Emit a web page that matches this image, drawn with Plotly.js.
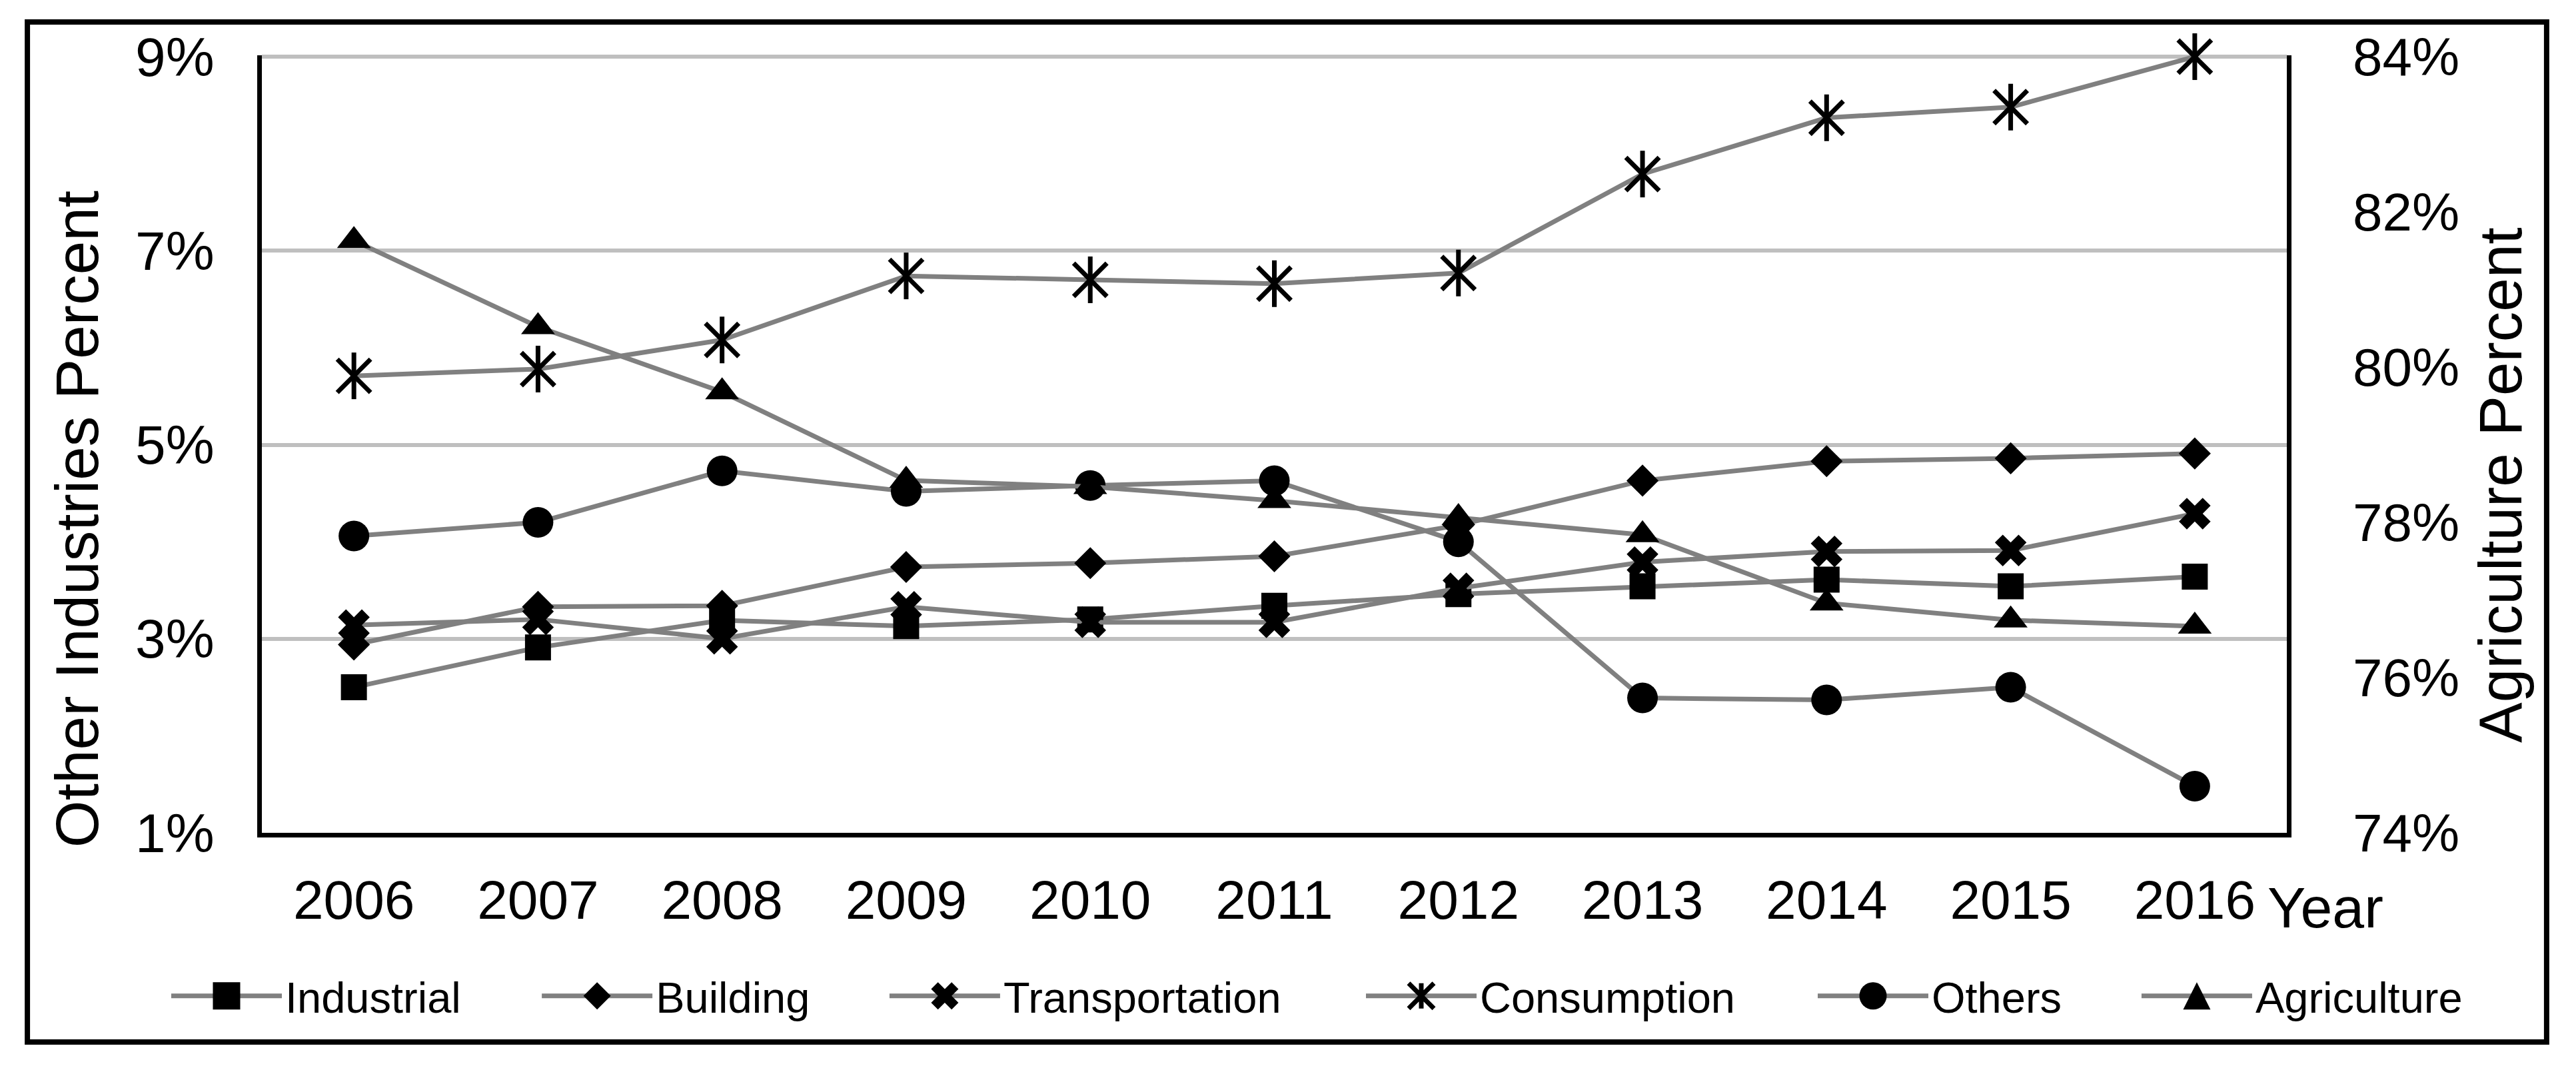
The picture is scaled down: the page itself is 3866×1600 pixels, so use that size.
<!DOCTYPE html>
<html>
<head>
<meta charset="utf-8">
<script src="https://cdn.plot.ly/plotly-3.0.1.min.js"></script>
<style>
html,body{margin:0;padding:0;background:#ffffff;}
#chart{width:3866px;height:1600px;}
</style>
</head>
<body>
<div id="chart"></div>
<script>
// ---------------- data ----------------
const years = [2006, 2007, 2008, 2009, 2010, 2011, 2012, 2013, 2014, 2015, 2016];
const yearLabels = ["2006", "2007", "2008", "2009", "2010", "2011", "2012", "2013", "2014", "2015", "2016"];

// left axis: Other Industries Percent (%)
const industrial     = [2.50, 2.91, 3.19, 3.13, 3.20, 3.34, 3.46, 3.54, 3.61, 3.54, 3.64];
const building       = [2.94, 3.33, 3.34, 3.74, 3.78, 3.85, 4.17, 4.63, 4.83, 4.86, 4.91];
const transportation = [3.14, 3.20, 3.00, 3.33, 3.17, 3.17, 3.52, 3.79, 3.90, 3.91, 4.29];
const consumption    = [5.71, 5.78, 6.08, 6.74, 6.70, 6.66, 6.77, 7.79, 8.37, 8.48, 9.00];
const others         = [4.06, 4.20, 4.73, 4.52, 4.58, 4.63, 4.00, 2.39, 2.37, 2.50, 1.48];
// right axis: Agriculture Percent (%)
const agriculture    = [81.63, 80.52, 79.68, 78.54, 78.46, 78.28, 78.06, 77.84, 76.96, 76.74, 76.66];

const leftTicks       = [1, 3, 5, 7, 9];
const leftTickLabels  = ["1%", "3%", "5%", "7%", "9%"];
const rightTicks      = [74, 76, 78, 80, 82, 84];
const rightTickLabels = ["74%", "76%", "78%", "80%", "82%", "84%"];

// ---------------- style ----------------
const FONT = 'Liberation Sans, Arial, Helvetica, sans-serif';
const LINE_COLOR = '#808080';
const LINE_W = 7;

function series(name, y, symbol, size, legendId, axis, extraMarker) {
  const marker = Object.assign({symbol: symbol, size: size, color: '#000000', line: {width: 0}}, extraMarker || {});
  return {
    type: 'scatter', mode: 'lines+markers', name: name,
    x: years, y: y, yaxis: axis || 'y',
    line: {color: LINE_COLOR, width: LINE_W},
    marker: marker, cliponaxis: false,
    legend: legendId
  };
}

const data = [
  series('Industrial', industrial, 'square', 39, 'legend', 'y'),
  series('Building', building, 'diamond', 37, 'legend2', 'y'),
  series('Transportation', transportation, 'x', 42, 'legend3', 'y'),
  series('Consumption', consumption, 'x-thin-open', 50, 'legend4', 'y',
         {line: {color: '#000000', width: 7}}),
  {
    type: 'scatter', mode: 'markers', name: 'Consumption', showlegend: false,
    x: years, y: consumption, yaxis: 'y', cliponaxis: false,
    marker: {symbol: 'line-ns-open', size: 50, color: '#000000', line: {color: '#000000', width: 7}}
  },
  series('Others', others, 'circle', 46, 'legend5', 'y'),
  series('Agriculture', agriculture, 'triangle-up', 44, 'legend6', 'y2')
];

function legendAt(x) {
  return {
    x: x, y: -0.2099, xanchor: 'left', yanchor: 'middle',
    orientation: 'h', bgcolor: 'rgba(0,0,0,0)', borderwidth: 0,
    font: {family: FONT, size: 65, color: '#000000'},
    itemwidth: 166, itemclick: false, itemdoubleclick: false
  };
}

const layout = {
  width: 3866, height: 1600,
  margin: {l: 393, r: 434, t: 83, b: 350, pad: 0, autoexpand: false},
  paper_bgcolor: '#ffffff', plot_bgcolor: '#ffffff',
  font: {family: FONT, color: '#000000'},
  showlegend: true,
  legend:  legendAt(-0.0464),
  legend2: legendAt(0.1366),
  legend3: legendAt(0.3083),
  legend4: legendAt(0.5436),
  legend5: legendAt(0.7667),
  legend6: legendAt(0.9266),
  xaxis: {
    range: [2005.5, 2016.5], tickmode: 'array', tickvals: years, ticktext: yearLabels,
    showgrid: false, zeroline: false, showline: true,
    linecolor: '#000000', linewidth: 7, ticks: '',
    tickfont: {family: FONT, size: 82, color: '#000000'},
    ticklabelstandoff: 24, fixedrange: true
  },
  yaxis: {
    range: [1, 9.014], tickmode: 'array', tickvals: leftTicks, ticktext: leftTickLabels,
    showgrid: true, gridcolor: '#bfbfbf', gridwidth: 6,
    zeroline: false, showline: true, linecolor: '#000000', linewidth: 7,
    ticks: '', tickfont: {family: FONT, size: 82, color: '#000000'},
    ticklabelstandoff: 48, fixedrange: true
  },
  yaxis2: {
    overlaying: 'y', side: 'right', anchor: 'x',
    range: [74, 84.0175], tickmode: 'array', tickvals: rightTicks, ticktext: rightTickLabels,
    showgrid: false, zeroline: false, showline: true,
    linecolor: '#000000', linewidth: 7, ticks: '',
    tickfont: {family: FONT, size: 80, color: '#000000'},
    ticklabelstandoff: 76, fixedrange: true
  },
  annotations: [
    {text: 'Other Industries Percent', xref: 'paper', yref: 'paper',
     x: -0.0911, y: 0.4036, xanchor: 'center', yanchor: 'middle',
     textangle: -90, showarrow: false, font: {family: FONT, size: 91, color: '#000000'}},
    {text: 'Agriculture Percent', xref: 'paper', yref: 'paper',
     x: 1.1053, y: 0.4473, xanchor: 'center', yanchor: 'middle',
     textangle: -90, showarrow: false, font: {family: FONT, size: 91, color: '#000000'}},
    {text: 'Year', xref: 'paper', yref: 'paper',
     x: 1.0191, y: -0.096, xanchor: 'center', yanchor: 'middle',
     showarrow: false, font: {family: FONT, size: 86, color: '#000000'}}
  ],
  shapes: [
    {type: 'rect', xref: 'paper', yref: 'paper',
     x0: -0.1158, x1: 1.1283, y0: -0.2691, y1: 1.0428,
     line: {color: '#000000', width: 8}, fillcolor: 'rgba(0,0,0,0)', layer: 'below'}
  ]
};

// Plotly caps legend symbols at 16px; scale them up to the ~41px used in the reference.
// Idempotent, so it can be re-run whenever Plotly redraws a legend.
const XTHIN = /^M(-?[\d.]+),(-?[\d.]+)L-?[\d.]+,-?[\d.]+M-?[\d.]+,-?[\d.]+L-?[\d.]+,-?[\d.]+$/;
function enlargeLegendSymbols(gd) {
  gd.querySelectorAll('.legendpoints path.scatterpts').forEach(function (p) {
    const d = p.getAttribute('d') || '';
    let isStar = false;
    const mm = d.match(XTHIN);
    if (mm) {
      const rx = parseFloat(mm[1]);
      if (isFinite(rx)) { p.setAttribute('d', d + 'M0,' + rx + 'V-' + rx); isStar = true; }
    } else if (d.indexOf('V-') !== -1 && /^M-?[\d.]+,-?[\d.]+L/.test(d)) {
      isStar = true;
    }
    const cur = p.getAttribute('transform') || '';
    const base = cur.replace(/\s*scale\([^)]*\)/g, '').replace(/\s*translate\([^)]*\)\s*$/, function (s) {
      return (cur.indexOf('scale') !== -1) ? '' : s;
    });
    let bb;
    try { bb = p.getBBox(); } catch (e) { return; }
    if (!bb.width || !bb.height) return;
    const target = isStar ? 38 : 41;
    const kx = Math.round((target / bb.width) * 1000) / 1000;
    const ky = Math.round((target / bb.height) * 1000) / 1000;
    const cx = Math.round((bb.x + bb.width / 2) * 100) / 100;
    const cy = Math.round((bb.y + bb.height / 2) * 100) / 100;
    const want = base + ' scale(' + kx + ',' + ky + ') translate(' + (-cx) + ',' + (-cy) + ')';
    if (cur !== want) p.setAttribute('transform', want);
    p.style.vectorEffect = 'non-scaling-stroke';
    if (isStar) p.style.strokeWidth = '7px';
  });
}

const gdEl = document.getElementById('chart');
let busy = false;
const obs = new MutationObserver(function () {
  if (busy) return;
  busy = true;
  try { enlargeLegendSymbols(gdEl); } finally { busy = false; }
});
obs.observe(gdEl, {subtree: true, childList: true, attributes: true, attributeFilter: ['d', 'transform']});

Plotly.newPlot(gdEl, data, layout, {staticPlot: true, displayModeBar: false}).then(function (gd) {
  enlargeLegendSymbols(gd);
  setTimeout(function () { enlargeLegendSymbols(gd); }, 30);
  setTimeout(function () { enlargeLegendSymbols(gd); }, 200);
});
</script>
</body>
</html>
